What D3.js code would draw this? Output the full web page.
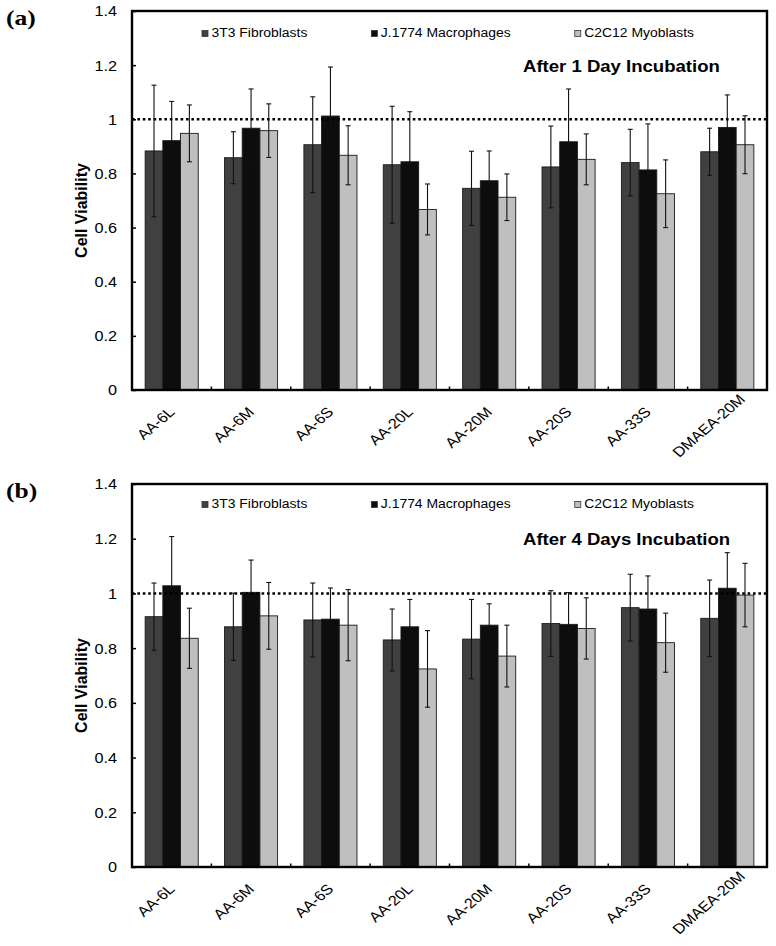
<!DOCTYPE html>
<html>
<head>
<meta charset="utf-8">
<script src="https://cdn.jsdelivr.net/npm/d3@7/dist/d3.min.js"></script>
<style>
  html, body { margin: 0; padding: 0; background: #fff; }
  svg { display: block; }
  text { font-family: "Liberation Sans", Arial, sans-serif; fill: #000; }
</style>
</head>
<body>
<svg id="chart" width="776" height="946"></svg>
<script>
// ---------- data ----------
const categories = ["AA-6L", "AA-6M", "AA-6S", "AA-20L", "AA-20M", "AA-20S", "AA-33S", "DMAEA-20M"];
const seriesNames = ["3T3 Fibroblasts", "J.1774 Macrophages", "C2C12 Myoblasts"];
const yTicks = [0, 0.2, 0.4, 0.6, 0.8, 1, 1.2, 1.4];
const yTickLabels = ["0", "0.2", "0.4", "0.6", "0.8", "1", "1.2", "1.4"];

// (a) After 1 day
const fib1 = [0.883, 0.858, 0.906, 0.832, 0.745, 0.824, 0.840, 0.880];
const fib1Err = [0.243, 0.096, 0.177, 0.216, 0.137, 0.151, 0.123, 0.087];
const mac1 = [0.921, 0.967, 1.012, 0.843, 0.773, 0.917, 0.813, 0.970];
const mac1Err = [0.145, 0.145, 0.181, 0.185, 0.110, 0.195, 0.170, 0.120];
const myo1 = [0.948, 0.958, 0.867, 0.667, 0.712, 0.852, 0.725, 0.906];
const myo1Err = [0.105, 0.099, 0.109, 0.094, 0.086, 0.094, 0.125, 0.107];

// (b) After 4 days
const fib4 = [0.915, 0.878, 0.903, 0.830, 0.833, 0.890, 0.948, 0.909];
const fib4Err = [0.123, 0.123, 0.135, 0.113, 0.145, 0.120, 0.122, 0.140];
const mac4 = [1.028, 1.004, 0.906, 0.878, 0.884, 0.887, 0.943, 1.019];
const mac4Err = [0.180, 0.118, 0.114, 0.100, 0.078, 0.116, 0.121, 0.130];
const myo4 = [0.836, 0.918, 0.884, 0.724, 0.771, 0.872, 0.820, 0.994];
const myo4Err = [0.110, 0.122, 0.130, 0.140, 0.113, 0.112, 0.108, 0.116];

const refLine = 1;

// ---------- styles ----------
const fills = ["#404040", "#0d0d0d", "#bfbfbf"];
const SX = 1.16; // horizontal stretch of the reference's text
const C45 = Math.SQRT1_2;

const svg = d3.select("#chart");

function stretchedText(g, x, y, str, opts = {}) {
  const t = g.append("text")
    .attr("transform", `translate(${x},${y}) scale(${SX},1)`)
    .attr("text-anchor", opts.anchor || "start")
    .style("font-size", (opts.size || 12) + "px")
    .style("font-weight", opts.weight || "normal")
    .text(str);
  if (opts.family) t.style("font-family", opts.family);
  return t;
}

function drawPanel(cfg) {
  const left = 132, right = 767;
  const g = svg.append("g");

  const x = d3.scaleBand().domain(categories).range([left, right]).padding(0);
  const x1 = d3.scaleBand().domain(seriesNames).range([0, x.bandwidth()])
    .paddingInner(0).paddingOuter(0.743);
  const y = d3.scaleLinear().domain([0, 1.4]).range([cfg.bottom, cfg.top]);

  const series = [
    { name: seriesNames[0], vals: cfg.fib, errs: cfg.fibErr, fill: fills[0] },
    { name: seriesNames[1], vals: cfg.mac, errs: cfg.macErr, fill: fills[1] },
    { name: seriesNames[2], vals: cfg.myo, errs: cfg.myoErr, fill: fills[2] }
  ];

  // bars
  series.forEach(s => {
    const sg = g.append("g");
    sg.selectAll("rect").data(categories).join("rect")
      .attr("x", (c) => x(c) + x1(s.name))
      .attr("y", (c, i) => y(s.vals[i]))
      .attr("width", x1.bandwidth())
      .attr("height", (c, i) => y(0) - y(s.vals[i]))
      .attr("fill", s.fill)
      .attr("stroke", "#1a1a1a")
      .attr("stroke-width", 0.9);
  });

  // error bars
  series.forEach(s => {
    const eg = g.append("g").attr("stroke", "#111").attr("stroke-width", 1.1);
    categories.forEach((c, i) => {
      const cx = x(c) + x1(s.name) + x1.bandwidth() / 2;
      const y1 = y(s.vals[i] + s.errs[i]);
      const y2 = y(Math.max(0, s.vals[i] - s.errs[i]));
      eg.append("line").attr("x1", cx).attr("x2", cx).attr("y1", y1).attr("y2", y2);
      eg.append("line").attr("x1", cx - 2.5).attr("x2", cx + 2.5).attr("y1", y1).attr("y2", y1);
      eg.append("line").attr("x1", cx - 2.5).attr("x2", cx + 2.5).attr("y1", y2).attr("y2", y2);
    });
  });

  // reference dotted line
  g.append("line")
    .attr("x1", left).attr("x2", right)
    .attr("y1", y(refLine)).attr("y2", y(refLine))
    .attr("stroke", "#000").attr("stroke-width", 2.6)
    .attr("stroke-dasharray", "2.6,2.8");

  // y axis
  const yAxis = d3.axisLeft(y).tickValues(yTicks)
    .tickFormat((d, i) => yTickLabels[i])
    .tickSizeInner(-4).tickSizeOuter(0).tickPadding(15);
  const ya = g.append("g").attr("transform", `translate(${left},0)`).call(yAxis);
  ya.select(".domain").remove();
  ya.selectAll(".tick line").attr("stroke", "#000").attr("stroke-width", 1.5);
  ya.selectAll(".tick text").each(function () {
    const t = d3.select(this);
    const tx = +t.attr("x");
    t.attr("x", null).attr("dy", "0.35em")
      .attr("transform", `translate(${tx},0) scale(${SX},1)`)
      .style("font-family", '"Liberation Sans", Arial, sans-serif')
      .style("font-size", "14px").attr("fill", "#000");
  });

  // x axis labels (rotated -45°, end-anchored just right of the category centre;
  // long labels slide up along their own direction so they stay within the label area)
  const xAxis = d3.axisBottom(x).tickSize(0).tickPadding(0);
  const xa = g.append("g").attr("transform", `translate(0,${cfg.bottom})`).call(xAxis);
  xa.select(".domain").remove();
  const maxDepth = 68;
  xa.selectAll(".tick text")
    .attr("y", 0).attr("dy", null)
    .attr("text-anchor", "end")
    .style("font-family", '"Liberation Sans", Arial, sans-serif')
    .style("font-size", "14px").attr("fill", "#000")
    .each(function () {
      const L = this.getComputedTextLength();
      let ax = 4, ay = 23;
      const depth = ay + L * C45;
      if (depth > maxDepth) {
        const excess = depth - maxDepth;
        ax += excess * SX;
        ay -= excess;
      }
      d3.select(this).attr("transform", `translate(${ax},${ay}) scale(${SX},1) rotate(-45)`);
    });

  // category boundary ticks
  categories.slice(1).forEach(c => {
    g.append("line").attr("x1", x(c)).attr("x2", x(c))
      .attr("y1", cfg.bottom).attr("y2", cfg.bottom - 3.5)
      .attr("stroke", "#000").attr("stroke-width", 1.5);
  });

  // frame
  g.append("rect").attr("x", left).attr("y", cfg.top)
    .attr("width", right - left).attr("height", cfg.bottom - cfg.top)
    .attr("fill", "none").attr("stroke", "#000").attr("stroke-width", 2.4);

  // legend
  let lx = 202;
  series.forEach(s => {
    g.append("rect").attr("x", lx).attr("y", cfg.legendY - 6.5)
      .attr("width", 6).attr("height", 6)
      .attr("fill", s.fill).attr("stroke", "#333").attr("stroke-width", 0.8);
    const t = stretchedText(g, lx + 9.5, cfg.legendY, s.name, { size: 12 });
    const w = t.node().getComputedTextLength() * SX;
    lx = lx + 9.5 + w + 64;
  });

  // title
  stretchedText(g, 523, cfg.titleY, cfg.title, { size: 16, weight: "bold" });

  // y axis title
  g.append("text")
    .attr("transform", `translate(87,${(cfg.top + cfg.bottom) / 2 + 10}) rotate(-90)`)
    .attr("text-anchor", "middle")
    .style("font-size", "16px").style("font-weight", "bold")
    .text("Cell Viability");

  // panel label
  stretchedText(g, 6, cfg.panelY, cfg.panel,
    { size: 22, weight: "bold", family: '"Liberation Serif", "Times New Roman", serif' });
}

drawPanel({
  top: 11, bottom: 390, legendY: 37, titleY: 72, panelY: 25,
  title: "After 1 Day Incubation", panel: "(a)",
  fib: fib1, fibErr: fib1Err, mac: mac1, macErr: mac1Err, myo: myo1, myoErr: myo1Err
});

drawPanel({
  top: 484, bottom: 867, legendY: 508, titleY: 545, panelY: 498,
  title: "After 4 Days Incubation", panel: "(b)",
  fib: fib4, fibErr: fib4Err, mac: mac4, macErr: mac4Err, myo: myo4, myoErr: myo4Err
});
</script>
</body>
</html>
